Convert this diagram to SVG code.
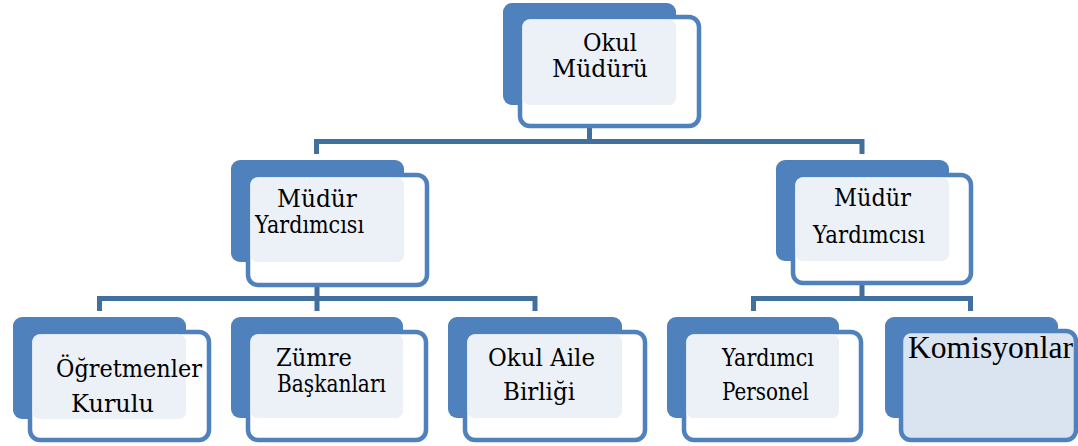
<svg xmlns="http://www.w3.org/2000/svg" width="1078" height="446" viewBox="0 0 1078 446">
<style>
.back{fill:#4F81BD}
.front{fill:#FFFFFF;stroke:#4F81BD;stroke-width:4.5}
.light{fill:#ECF0F7}
.t{font-family:"DejaVu Serif","Liberation Serif",serif;font-size:23.5px;fill:#000}
.k{font-family:"Liberation Serif",serif;font-size:31px;fill:#000}
.c{fill:none;stroke:#41709F;stroke-width:5}
.f{fill:none;stroke:#E3E8F0;stroke-width:5}
</style>
<rect width="1078" height="446" fill="#FFFFFF"/>
<g id="connectors">
<line class="f" x1="589.5" y1="105" x2="589.5" y2="124"/>
<line class="f" x1="317" y1="262" x2="317" y2="283"/>
<line class="f" x1="862" y1="261" x2="862" y2="281"/>
<path class="c" d="M589.5 127 V141.5"/>
<path class="c" d="M316.5 154 V141.5 H862 V154"/>
<path class="c" d="M317 285 V298.5"/>
<path class="c" d="M99.5 311 V298.5 H535 V311 M317 298.5 V311"/>
<path class="c" d="M862 283 V298.5"/>
<path class="c" d="M753.5 311 V298.5 H970.5 V311"/>
</g>
<g id="n-okul-muduru">
<rect class="back" x="503" y="3" width="173" height="102" rx="9"/>
<rect class="front" x="520" y="17" width="179" height="109" rx="10"/>
<rect class="light" x="522.5" y="19.5" width="153.5" height="85.5" rx="7"/>
<text class="t" x="583" y="51" textLength="54" lengthAdjust="spacingAndGlyphs">Okul</text>
<text class="t" x="552" y="77" textLength="96" lengthAdjust="spacingAndGlyphs">Müdürü</text>
</g>
<g id="n-mudur-yard-left">
<rect class="back" x="231" y="160" width="173" height="102" rx="9"/>
<rect class="front" x="248" y="175" width="179" height="110" rx="10"/>
<rect class="light" x="250.5" y="177.5" width="153.5" height="84.5" rx="7"/>
<text class="t" x="277" y="207" textLength="80" lengthAdjust="spacingAndGlyphs">Müdür</text>
<text class="t" x="255" y="233" textLength="109" lengthAdjust="spacingAndGlyphs">Yardımcısı</text>
</g>
<g id="n-mudur-yard-right">
<rect class="back" x="776" y="160" width="173" height="101" rx="9"/>
<rect class="front" x="793" y="175" width="178" height="108" rx="10"/>
<rect class="light" x="795.5" y="177.5" width="153.5" height="83.5" rx="7"/>
<text class="t" x="834" y="206" textLength="77" lengthAdjust="spacingAndGlyphs">Müdür</text>
<text class="t" x="813" y="243" textLength="112" lengthAdjust="spacingAndGlyphs">Yardımcısı</text>
</g>
<g id="n-ogretmenler">
<rect class="back" x="13" y="317" width="173" height="102" rx="9"/>
<rect class="front" x="30" y="332" width="179" height="108" rx="10"/>
<rect class="light" x="32.5" y="334.5" width="153.5" height="84.5" rx="7"/>
<text class="t" x="56" y="377" textLength="146" lengthAdjust="spacingAndGlyphs">Öğretmenler</text>
<text class="t" x="71" y="412" textLength="83" lengthAdjust="spacingAndGlyphs">Kurulu</text>
</g>
<g id="n-zumre">
<rect class="back" x="231" y="317" width="172" height="101" rx="9"/>
<rect class="front" x="248" y="332" width="178" height="108" rx="10"/>
<rect class="light" x="250.5" y="334.5" width="152.5" height="83.5" rx="7"/>
<text class="t" x="276" y="366" textLength="76" lengthAdjust="spacingAndGlyphs">Zümre</text>
<text class="t" x="277" y="392" textLength="109" lengthAdjust="spacingAndGlyphs">Başkanları</text>
</g>
<g id="n-okul-aile">
<rect class="back" x="448" y="317" width="174" height="101" rx="9"/>
<rect class="front" x="465" y="332" width="180" height="108" rx="10"/>
<rect class="light" x="467.5" y="334.5" width="154.5" height="83.5" rx="7"/>
<text class="t" x="488" y="366" textLength="107" lengthAdjust="spacingAndGlyphs">Okul Aile</text>
<text class="t" x="503" y="400" textLength="72" lengthAdjust="spacingAndGlyphs">Birliği</text>
</g>
<g id="n-yardimci-personel">
<rect class="back" x="667" y="317" width="172" height="101" rx="9"/>
<rect class="front" x="684" y="332" width="177" height="108" rx="10"/>
<rect class="light" x="686.5" y="334.5" width="152.5" height="83.5" rx="7"/>
<text class="t" x="722" y="366" textLength="92" lengthAdjust="spacingAndGlyphs">Yardımcı</text>
<text class="t" x="722" y="400" textLength="87" lengthAdjust="spacingAndGlyphs">Personel</text>
</g>
<g id="n-komisyonlar">
<rect class="back" x="885" y="317" width="173" height="101" rx="9"/>
<rect x="901" y="331" width="175" height="109" rx="10" fill="#DAE3F0" stroke="#4F81BD" stroke-width="4.5"/>
<text class="k" x="908" y="358" textLength="165" lengthAdjust="spacingAndGlyphs">Komisyonlar</text>
</g>
</svg>
